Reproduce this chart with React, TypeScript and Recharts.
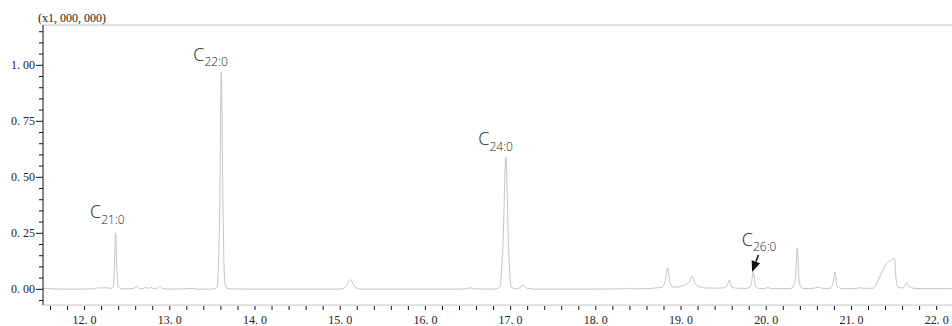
import { LineChart, Line, XAxis, YAxis, ReferenceLine, ReferenceDot } from "recharts";

// retention time (min) and detector signal (x1,000,000)
const retentionTime = [
  11.51, 11.6, 11.7, 11.9, 12.1, 12.15, 12.25, 12.3,
  12.335, 12.35, 12.364, 12.378, 12.393, 12.43, 12.5, 12.57,
  12.615, 12.65, 12.7, 12.72, 12.75, 12.78, 12.81, 12.85,
  12.89, 12.92, 13.0, 13.2, 13.25, 13.3, 13.5, 13.555,
  13.585, 13.605, 13.625, 13.645, 13.67, 13.72, 13.9, 14.5,
  15.0, 15.06, 15.12, 15.18, 15.25, 16.4, 16.48, 16.525,
  16.57, 16.8, 16.87, 16.91, 16.944, 16.975, 17.005, 17.06,
  17.1, 17.15, 17.2, 17.3, 17.9, 18.3, 18.37, 18.42,
  18.6, 18.7, 18.78, 18.815, 18.844, 18.87, 18.9, 18.95,
  19.0, 19.05, 19.1, 19.133, 19.16, 19.2, 19.28, 19.4,
  19.5, 19.54, 19.567, 19.595, 19.66, 19.75, 19.8, 19.827,
  19.849, 19.873, 19.92, 19.98, 20.02, 20.06, 20.15, 20.2,
  20.3, 20.342, 20.364, 20.387, 20.43, 20.55, 20.61, 20.66,
  20.75, 20.785, 20.807, 20.83, 20.9, 21.05, 21.09, 21.15,
  21.25, 21.29, 21.32, 21.36, 21.41, 21.46, 21.505, 21.525,
  21.545, 21.6, 21.625, 21.648, 21.675, 21.75, 21.9, 22.02,
  22.1, 22.18,
];
const intensity = [
  0.004, 0.003, 0.001, 0.001, 0.002, 0.006, 0.007, 0.004,
  0.012, 0.1, 0.25, 0.1, 0.012, 0.003, 0.002, 0.004,
  0.013, 0.003, 0.005, 0.008, 0.004, 0.009, 0.003, 0.006,
  0.013, 0.003, 0.001, 0.002, 0.005, 0.001, 0.001, 0.008,
  0.35, 0.97, 0.35, 0.03, 0.006, 0.002, 0.001, 0.001,
  0.001, 0.01, 0.043, 0.008, 0.001, 0.001, 0.003, 0.007,
  0.002, 0.001, 0.008, 0.2, 0.59, 0.2, 0.01, 0.002,
  0.006, 0.017, 0.004, 0.001, 0.001, 0.002, 0.005, 0.002,
  0.003, 0.006, 0.01, 0.04, 0.096, 0.03, 0.01, 0.01,
  0.014, 0.02, 0.035, 0.059, 0.03, 0.014, 0.006, 0.005,
  0.007, 0.015, 0.042, 0.01, 0.005, 0.004, 0.008, 0.03,
  0.079, 0.015, 0.004, 0.004, 0.008, 0.003, 0.004, 0.003,
  0.005, 0.05, 0.186, 0.03, 0.004, 0.004, 0.01, 0.004,
  0.005, 0.03, 0.076, 0.012, 0.003, 0.004, 0.007, 0.004,
  0.005, 0.02, 0.045, 0.08, 0.115, 0.128, 0.137, 0.04,
  0.01, 0.006, 0.015, 0.03, 0.012, 0.004, 0.003, 0.004,
  0.003, 0.003,
];

// labelled fatty acid peaks
const peakNames = ["21:0", "22:0", "24:0", "26:0"];
const peakTimes = [12.364, 13.605, 16.944, 19.849];
const peakHeights = [0.25, 0.97, 0.59, 0.079];
const arrowedPeak = "26:0";

const xDomain = [11.512, 22.18];
const yDomain = [-0.07, 1.18];
const xTicks = Array.from({ length: 53 }, (_, i) => +(11.6 + i * 0.2).toFixed(1));
const yTicks = Array.from({ length: 25 }, (_, i) => +(-0.05 + i * 0.05).toFixed(2));
const yUnit = "(x1, 000, 000)";

const data = retentionTime.map((t, i) => ({ t, v: intensity[i] }));

const tickFont = "'Liberation Serif', 'DejaVu Serif', serif";
const labelFont = "'Open Sans', 'Noto Sans', sans-serif";
const fmt = (v: number, d: number) => v.toFixed(d).replace(".", ". ");

// label placement relative to the peak apex, in px
const labelOffset: Record<string, [number, number]> = {
  "21:0": [-25.5, -15],
  "22:0": [-28, -11.5],
  "24:0": [-27.5, -12],
  "26:0": [-11.6, -26],
};

function YTick({ x, y, payload }: any) {
  const v = payload.value;
  const major = Math.abs(v * 4 - Math.round(v * 4)) < 1e-6;
  return (
    <g>
      <line x1={x - (major ? 7 : 4)} x2={x} y1={y} y2={y} stroke="#111" />
      {major && (
        <text x={x - 8} y={y + 4} textAnchor="end" fontSize={12} fontFamily={tickFont} fill="#222">
          {fmt(v, 2)}
        </text>
      )}
    </g>
  );
}

function XTick({ x, y, payload }: any) {
  const v = payload.value;
  const major = Math.abs(v - Math.round(v)) < 1e-6;
  return (
    <g>
      <line x1={x} x2={x} y1={y + 1} y2={y + 5} stroke="#111" />
      {major && (
        <text x={x} y={y + 19} textAnchor="middle" fontSize={12} fontFamily={tickFont} fill="#222">
          {fmt(v, 1)}
        </text>
      )}
    </g>
  );
}

function PeakLabel({ cx, cy, name }: any) {
  const [dx, dy] = labelOffset[name];
  const x = cx + dx;
  const y = cy + dy;
  let arrow = null;
  if (name === arrowedPeak) {
    const sx = cx + 5, sy = cy - 16.6;
    const tx = cx - 1.3, ty = cy + 0.5;
    const len = Math.hypot(tx - sx, ty - sy);
    const ux = (tx - sx) / len, uy = (ty - sy) / len;
    const bx = tx - ux * 11, by = ty - uy * 11;
    arrow = (
      <g>
        <line x1={sx} y1={sy} x2={bx} y2={by} stroke="#111" strokeWidth={1.5} />
        <polygon
          points={`${tx},${ty} ${bx - uy * 4.5},${by + ux * 4.5} ${bx + uy * 4.5},${by - ux * 4.5}`}
          fill="#111"
        />
      </g>
    );
  }
  return (
    <g>
      <text x={x} y={y} fontFamily={labelFont} fontWeight={300} fill="#222">
        <tspan fontSize={18}>C</tspan>
        <tspan fontSize={12} dy={5.5}>{name}</tspan>
      </text>
      {arrow}
    </g>
  );
}

function UnitLabel({ viewBox }: any) {
  return (
    <text x={viewBox.x + viewBox.width - 5} y={viewBox.y - 3} fontSize={12} fontFamily={tickFont} fill="#222">
      {yUnit}
    </text>
  );
}

export default function App() {
  return (
    <div style={{ position: "absolute", left: 0, top: 0, width: 952, height: 326, background: "#fff" }}>
      <LineChart width={952} height={326} data={data} margin={{ top: 25, right: 0, left: 0, bottom: 0 }}>
        <XAxis
          dataKey="t"
          type="number"
          domain={xDomain}
          ticks={xTicks}
          interval={0}
          allowDataOverflow
          height={21}
          tickLine={false}
          tickSize={0}
          tickMargin={0}
          axisLine={{ stroke: "#c8c8c8" }}
          tick={<XTick />}
        />
        <YAxis
          type="number"
          domain={yDomain}
          ticks={yTicks}
          interval={0}
          allowDataOverflow
          width={43}
          tickLine={false}
          tickSize={0}
          tickMargin={0}
          axisLine={{ stroke: "#111" }}
          tick={<YTick />}
          label={{ content: UnitLabel }}
        />
        <ReferenceLine y={yDomain[1]} stroke="#c8c8c8" />
        <Line
          type="monotone"
          dataKey="v"
          stroke="#c4c4c4"
          strokeWidth={1}
          dot={false}
          isAnimationActive={false}
        />
        {peakNames.map((name, i) => (
          <ReferenceDot
            key={name}
            x={peakTimes[i]}
            y={peakHeights[i]}
            r={0}
            shape={(p: any) => <PeakLabel cx={p.cx} cy={p.cy} name={name} />}
          />
        ))}
      </LineChart>
    </div>
  );
}
